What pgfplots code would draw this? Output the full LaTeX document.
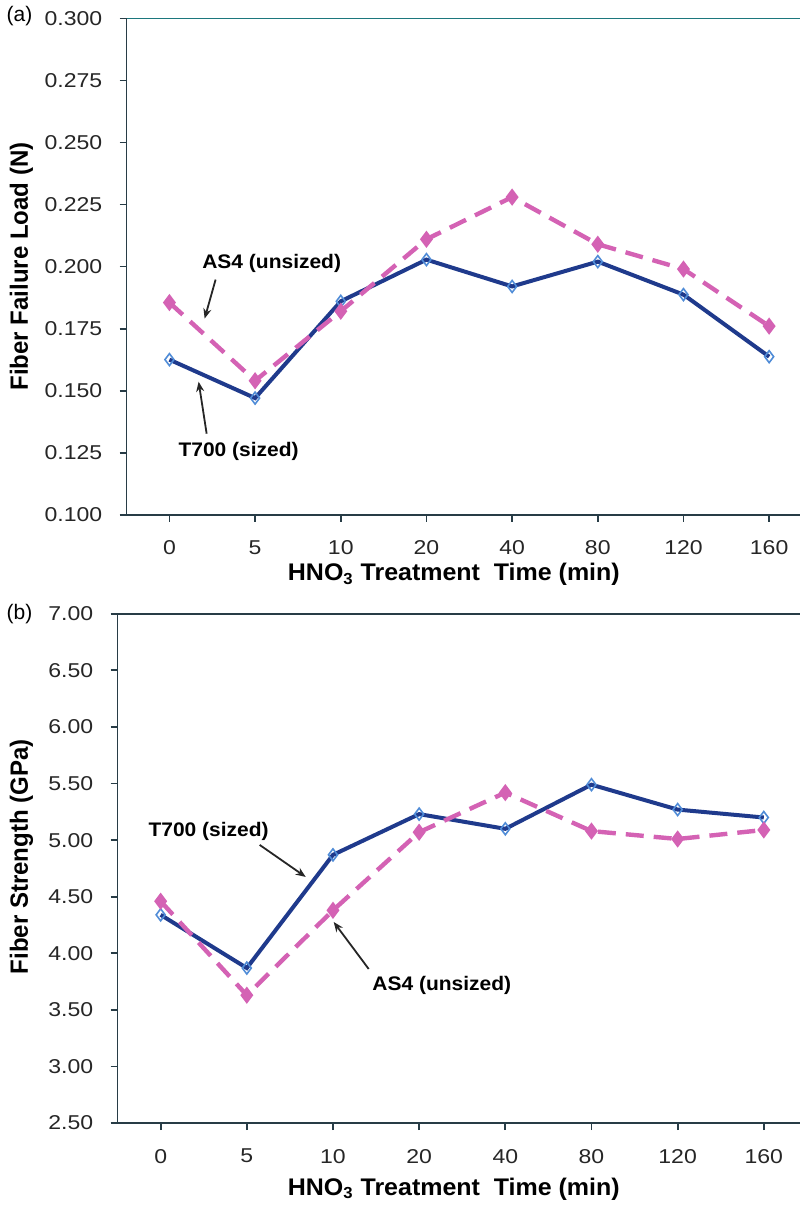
\documentclass[border=0pt]{standalone}
\usepackage{pgfplots}
\pgfplotsset{compat=1.18}
\usepackage{fontspec}
\setmainfont{Liberation Sans}
\usetikzlibrary{arrows.meta}
\definecolor{navy}{RGB}{31,58,140}
\definecolor{lblue}{RGB}{80,140,215}
\definecolor{pink}{RGB}{212,98,180}
\definecolor{axgray}{RGB}{40,60,70}
\tikzset{
  lbl/.style={font=\bfseries\fontsize{12}{14}\selectfont, xscale=1.04},
  ann/.style={font=\bfseries\fontsize{9.8}{11}\selectfont, xscale=1.07},
  arr/.style={-{Stealth[length=5pt,width=4pt]}, line width=0.9pt, black!85},
}
\pgfplotsset{
  myax/.style={
    scale only axis,
    axis x line*=bottom, axis y line*=left,
    axis line style={axgray, line width=0.9pt},
    xmin=-0.5, xtick={0,...,7},
    xticklabels={0,5,10,20,40,80,120,160},
    tick style={axgray, line width=0.9pt},
    tick align=outside, major tick length=3.5pt,
    tick label style={font=\fontsize{10}{12}\selectfont, text=black!85, xscale=1.15},
    xticklabel style={yshift=-6pt}, yticklabel style={xshift=-4pt},
    /pgf/number format/assume math mode=true,
    clip=false,
  },
  t700/.style={navy, line width=2pt, mark=diamond, mark size=3pt,
    mark options={draw=lblue, line width=0.8pt, fill=white, solid}},
  as4/.style={pink, line width=2.2pt, dash pattern=on 9pt off 5pt,
    mark=diamond*, mark size=2.5pt, mark options={solid, fill=pink, draw=pink}},
}
\begin{document}
\begin{tikzpicture}
% ---------- (a) ----------
\begin{axis}[myax, name=top, width=336.5pt, height=248pt,
  xmax=7.36, ymin=0.1, ymax=0.3, ytick={0.1,0.125,...,0.3001},
  yticklabel style={/pgf/number format/fixed, /pgf/number format/fixed zerofill, /pgf/number format/precision=3}]
\draw[axgray!70!cyan, line width=0.8pt] (rel axis cs:0,1) -- (rel axis cs:1,1);
\addplot[t700] coordinates {(0,0.1625) (1,0.147) (2,0.186) (3,0.2028) (4,0.192) (5,0.202) (6,0.1887) (7,0.1637)};
\addplot[as4] coordinates {(0,0.1855) (1,0.154) (2,0.182) (3,0.211) (4,0.228) (5,0.209) (6,0.199) (7,0.176)};
\node[font=\fontsize{10.5}{12}\selectfont] at (rel axis cs:-0.159,1.004) {(a)};
\node[lbl, rotate=90] at (rel axis cs:-0.156,0.5) {Fiber Failure Load (N)};
\node[lbl] at (rel axis cs:0.486,-0.121) {HNO\textsubscript{3} Treatment\ \ Time (min)};
\node[ann] at (rel axis cs:0.2155,0.506) {AS4 (unsized)};
\draw[arr] (rel axis cs:0.1322,0.4738) -- (rel axis cs:0.1159,0.3952);
\node[ann] at (rel axis cs:0.1664,0.127) {T700 (sized)};
\draw[arr] (rel axis cs:0.1189,0.1633) -- (rel axis cs:0.107,0.268);
\end{axis}
% ---------- (b) ----------
\begin{axis}[myax, at={(top.south west)}, anchor=north west, xshift=-4.5pt, yshift=-49.5pt,
  width=341pt, height=254.5pt,
  xmax=7.42, ymin=2.5, ymax=7, ytick={2.5,3,...,7.001},
  yticklabel style={/pgf/number format/fixed, /pgf/number format/fixed zerofill, /pgf/number format/precision=2}]
\draw[axgray, line width=0.8pt] (rel axis cs:0,1) -- (rel axis cs:1,1);
\addplot[t700] coordinates {(0,4.34) (1,3.87) (2,4.87) (3,5.23) (4,5.10) (5,5.49) (6,5.27) (7,5.20)};
\addplot[as4] coordinates {(0,4.46) (1,3.63) (2,4.38) (3,5.07) (4,5.42) (5,5.08) (6,5.01) (7,5.09)};
\node[font=\fontsize{10.5}{12}\selectfont] at (rel axis cs:-0.1437,1.0) {(b)};
\node[lbl, rotate=90] at (rel axis cs:-0.1408,0.5226) {Fiber Strength (GPa)};
\node[lbl] at (rel axis cs:0.4927,-0.1297) {HNO\textsubscript{3} Treatment\ \ Time (min)};
\node[ann] at (rel axis cs:0.1334,0.5717) {T700 (sized)};
\draw[arr] (rel axis cs:0.2082,0.5462) -- (rel axis cs:0.2757,0.4833);
\node[ann] at (rel axis cs:0.4751,0.2711) {AS4 (unsized)};
\draw[arr] (rel axis cs:0.368,0.3026) -- (rel axis cs:0.3167,0.3949);
\end{axis}
\end{tikzpicture}
\end{document}
